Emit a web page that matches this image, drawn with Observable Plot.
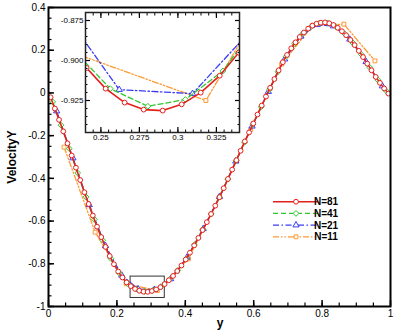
<!DOCTYPE html>
<html><head><meta charset="utf-8">
<script src="https://cdn.jsdelivr.net/npm/d3@7"></script>
<script src="https://cdn.jsdelivr.net/npm/@observablehq/plot@0.6"></script>
<style>
body{margin:0;background:#fff;}
#chart{position:relative;width:399px;height:333px;font-family:"Liberation Sans",Arial,Helvetica,sans-serif;}
#chart svg{position:absolute;left:0;top:0;overflow:visible;}
</style></head><body><div id="chart"></div>
<script>
// ---- data ----
const seriesNames = ["N=81", "N=41", "N=21", "N=11"];
const seriesN = [81, 41, 21, 11];
const v81 = [
-0.020, -0.073, -0.126, -0.180, -0.236, -0.293, -0.350, -0.408, -0.465, -0.520,
-0.574, -0.626, -0.675, -0.721, -0.764, -0.802, -0.836, -0.864, -0.887, -0.9047,
-0.9176, -0.9263, -0.9307, -0.9313, -0.9274, -0.9201, -0.9095, -0.8951, -0.877, -0.857,
-0.834, -0.808, -0.780, -0.748, -0.714, -0.679, -0.642, -0.605, -0.567, -0.528,
-0.488, -0.446, -0.403, -0.359, -0.315, -0.271, -0.227, -0.185, -0.143, -0.101,
-0.059, -0.017, 0.024, 0.065, 0.106, 0.144, 0.178, 0.209, 0.237, 0.262,
0.283, 0.301, 0.315, 0.324, 0.329, 0.330, 0.326, 0.318, 0.305, 0.289,
0.270, 0.248, 0.224, 0.197, 0.168, 0.137, 0.106, 0.075, 0.047, 0.021,
-0.003];
const v41 = [
-0.042, -0.151, -0.261, -0.375, -0.487, -0.592, -0.690, -0.776, -0.844, -0.893,
-0.9176, -0.9286, -0.9244, -0.9065, -0.874, -0.831, -0.777, -0.711, -0.640, -0.566,
-0.488, -0.404, -0.317, -0.231, -0.147, -0.065, 0.017, 0.099, 0.171, 0.231,
0.278, 0.311, 0.328, 0.327, 0.309, 0.277, 0.234, 0.180, 0.120, 0.060,
0.009];
const v21 = [-0.085, -0.305, -0.524, -0.716, -0.854, -0.9182, -0.9207, -0.871, -0.770, -0.636,
-0.486, -0.320, -0.156, 0.006, 0.158, 0.265, 0.319, 0.313, 0.251, 0.146, 0.032];
const v11 = [-0.254, -0.652, -0.8935, -0.925, -0.777, -0.488, -0.172, 0.135, 0.317, 0.322, 0.150];

const xTicks = [0, 0.2, 0.4, 0.6, 0.8, 1];
const xTickLabels = ["0", "0.2", "0.4", "0.6", "0.8", "1"];
const yTicks = [-1, -0.8, -0.6, -0.4, -0.2, 0, 0.2, 0.4];
const yTickLabels = ["-1", "-0.8", "-0.6", "-0.4", "-0.2", "0", "0.2", "0.4"];
const insetXTicks = [0.25, 0.275, 0.3, 0.325];
const insetXTickLabels = ["0.25", "0.275", "0.3", "0.325"];
const insetYTicks = [-0.925, -0.9, -0.875];
const insetYTickLabels = ["-0.925", "-0.900", "-0.875"];
const zoomBox = [{x1: 0.24, x2: 0.34, y1: -0.96, y2: -0.86}];

// ---- styles ----
const colors = ["#e3211c", "#2fc72f", "#3b3bf5", "#ff9933"];
const dashes = [null, "5,3", "6,2.5,1.5,2.5", "6,2,1.5,2,1.5,2"];
const symbols = ["circle", "diamond2", "triangle", "square"];
const d3symbols = [d3.symbolCircle, d3.symbolDiamond2, d3.symbolTriangle, d3.symbolSquare];
const radii = [2.4, 2.6, 2.3, 2.2];
const font = '"Liberation Sans", Arial, Helvetica, sans-serif';

const values = [v81, v41, v21, v11];
const series = values.map((vals, k) => vals.map((v, i) => ({x: (i + 0.5) / seriesN[k], v})));

function seriesMarks(clip) {
  const m = [];
  for (let k = 3; k >= 0; k--) {
    m.push(Plot.line(series[k], {x: "x", y: "v", stroke: colors[k], strokeWidth: k === 0 ? 1.6 : 1.3,
      strokeDasharray: dashes[k], clip}));
    m.push(Plot.dot(series[k], {x: "x", y: "v", symbol: symbols[k], r: radii[k], stroke: colors[k],
      fill: "white", strokeWidth: 1, clip}));
  }
  return m;
}
const xMap = new Map(xTicks.map((t, i) => [t, xTickLabels[i]]));
const yMap = new Map(yTicks.map((t, i) => [t, yTickLabels[i]]));
const ixMap = new Map(insetXTicks.map((t, i) => [t, insetXTickLabels[i]]));
const iyMap = new Map(insetYTicks.map((t, i) => [t, insetYTickLabels[i]]));
const blank = () => "";

const xMinor = d3.range(0, 1.0001, 0.05);
const yMinor = d3.range(-1, 0.4001, 0.05);

const main = Plot.plot({
  width: 399, height: 333,
  marginLeft: 48, marginRight: 9, marginTop: 7, marginBottom: 27,
  style: {background: "transparent", fontFamily: font, fontSize: "10px", color: "black"},
  x: {domain: [0, 1]},
  y: {domain: [-1, 0.4]},
  marks: [
    Plot.rect(zoomBox, {x1: "x1", x2: "x2", y1: "y1", y2: "y2", stroke: "#333", strokeWidth: 1, fill: "none"}),
    ...seriesMarks(false),
    Plot.axisX(xMinor, {tickSize: -3.5, tickFormat: blank, label: null, strokeWidth: 1.2}),
    Plot.axisY(yMinor, {tickSize: -3.5, tickFormat: blank, label: null, strokeWidth: 1.2}),
    Plot.axisX(xTicks, {tickSize: -6, tickFormat: blank, label: null, strokeWidth: 1.5}),
    Plot.axisY(yTicks, {tickSize: -6, tickFormat: blank, label: null, strokeWidth: 1.5}),
    Plot.axisX(xTicks, {tickSize: 0, tickPadding: 3, tickFormat: d => xMap.get(d), label: null, fontSize: 10}),
    Plot.axisY(yTicks, {tickSize: 0, tickPadding: 3, tickFormat: d => yMap.get(d), label: null, fontSize: 10}),
    Plot.frame({stroke: "black", strokeWidth: 2})
  ]
});

const insetMinorX = d3.range(0.24, 0.3401, 0.005);
const insetMinorY = d3.range(-0.945, -0.8699, 0.005);
const inset = Plot.plot({
  width: 190, height: 142,
  marginLeft: 30, marginRight: 6, marginTop: 6, marginBottom: 16,
  style: {background: "transparent", fontFamily: font, fontSize: "8px", color: "black"},
  x: {domain: [0.24, 0.34]},
  y: {domain: [-0.945, -0.87]},
  marks: [
    Plot.frame({fill: "white", stroke: "none"}),
    ...seriesMarks(true),
    Plot.axisX(insetMinorX, {anchor: "bottom", tickSize: -2.5, tickFormat: blank, label: null}),
    Plot.axisX(insetMinorX, {anchor: "top", tickSize: -2.5, tickFormat: blank, label: null}),
    Plot.axisY(insetMinorY, {anchor: "left", tickSize: -2.5, tickFormat: blank, label: null}),
    Plot.axisY(insetMinorY, {anchor: "right", tickSize: -2.5, tickFormat: blank, label: null}),
    Plot.axisX(insetXTicks, {anchor: "bottom", tickSize: -5, tickFormat: blank, label: null, strokeWidth: 1.2}),
    Plot.axisX(insetXTicks, {anchor: "top", tickSize: -5, tickFormat: blank, label: null, strokeWidth: 1.2}),
    Plot.axisY(insetYTicks, {anchor: "left", tickSize: -5, tickFormat: blank, label: null, strokeWidth: 1.2}),
    Plot.axisY(insetYTicks, {anchor: "right", tickSize: -5, tickFormat: blank, label: null, strokeWidth: 1.2}),
    Plot.axisX(insetXTicks, {anchor: "bottom", tickSize: 0, tickPadding: 2, tickFormat: d => ixMap.get(d), label: null, fontSize: 8}),
    Plot.axisY(insetYTicks, {anchor: "left", tickSize: 0, tickPadding: 2, tickFormat: d => iyMap.get(d), label: null, fontSize: 8}),
    Plot.frame({stroke: "#222", strokeWidth: 1.5})
  ]
});
inset.style.left = "55px";
inset.style.top = "6px";

// axis titles and legend
const s = d3.select(main);
s.append("text").attr("x", 220).attr("y", 326.5).attr("text-anchor", "middle")
  .attr("font-family", font).attr("font-weight", "bold").attr("font-size", 12).attr("fill", "black").text("y");
s.append("text").attr("transform", "translate(16,157) rotate(-90)").attr("text-anchor", "middle")
  .attr("font-family", font).attr("font-weight", "bold").attr("font-size", 12).attr("fill", "black").text("VelocityY");
const lg = s.append("g");
seriesNames.forEach((name, k) => {
  const y = 201.7 + k * 11.7;
  lg.append("line").attr("x1", 273).attr("x2", 318).attr("y1", y).attr("y2", y)
    .attr("stroke", colors[k]).attr("stroke-width", k === 0 ? 1.6 : 1.3)
    .attr("stroke-dasharray", dashes[k]);
  lg.append("path").attr("d", d3.symbol(d3symbols[k], Math.PI * radii[k] * radii[k])())
    .attr("transform", `translate(296,${y})`).attr("fill", "white").attr("stroke", colors[k]);
  lg.append("text").attr("x", 326).attr("y", y).attr("dy", "0.36em")
    .attr("font-family", font).attr("font-weight", "bold").attr("font-size", 10).attr("fill", "black").text(name);
});

const root = document.getElementById("chart");
root.appendChild(main);
root.appendChild(inset);
</script></body></html>
